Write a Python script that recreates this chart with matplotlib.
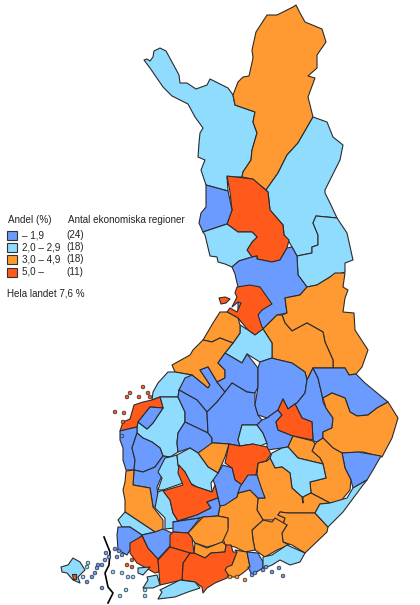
import matplotlib
matplotlib.use('Agg')
import matplotlib.pyplot as plt
from matplotlib.patches import Rectangle

plt.rcParams['font.family'] = ['Liberation Sans', 'DejaVu Sans']

# Legend
legend_labels = ['\u2013 1,9', '2,0 \u2013 2,9', '3,0 \u2013 4,9', '5,0 \u2013']
legend_counts = ['(24)', '(18)', '(18)', '(11)']
colors = ['#6B9BFF', '#8FDCFF', '#FF9A33', '#FF5A1C']

# Region outlines (x, y in picture pixels), class = legend row
enontekio = [(144,60),(147,59),(150,61),(153,57),(154,51),(160,48),(166,51),(172,62),(179,75),(180,83),(187,83),(196,89),(207,85),(210,79),(218,83),(228,88),(233,95),(235,105),(255,112),(253,122),(257,133),(252,150),(251,160),(243,172),(242,177),(227,177),(228,191),(206,185),(201,170),(205,160),(198,157),(199,143),(200,133),(203,128),(195,117),(188,104),(172,96),(163,87),(150,68)]
inari = [(233,95),(238,82),(243,77),(249,76),(253,58),(252,50),(256,32),(267,15),(277,15),(293,7),(296,5),(300,13),(305,22),(322,29),(326,42),(317,55),(317,68),(308,76),(315,78),(308,97),(313,117),(298,143),(287,155),(278,173),(266,190),(252,179),(242,177),(243,172),(251,160),(252,150),(257,133),(253,122),(255,112),(235,105)]
salla = [(313,117),(327,122),(333,137),(343,145),(340,160),(325,190),(325,193),(330,203),(337,218),(316,216),(313,223),(318,235),(318,245),(312,247),(312,253),(297,256),(292,247),(288,240),(284,235),(283,225),(270,210),(268,192),(266,190),(278,173),(287,155),(298,143)]
koillismaa = [(337,218),(347,233),(353,260),(345,263),(345,272),(330,277),(317,285),(307,287),(298,275),(297,256),(312,253),(312,247),(318,245),(318,235),(313,223),(316,216)]
rovaniemi = [(227,176),(253,179),(268,192),(270,210),(283,225),(284,235),(289,240),(287,248),(280,260),(272,262),(257,259),(257,256),(252,257),(247,250),(252,242),(257,237),(252,232),(238,232),(227,224),(232,210),(230,192)]
kemi = [(206,185),(228,191),(232,210),(227,224),(203,232),(199,223),(201,213),(206,207)]
oulu = [(203,232),(227,224),(238,232),(252,232),(257,237),(252,242),(247,250),(252,257),(239,261),(232,267),(225,264),(218,262),(217,257),(210,256),(205,235)]
oulu_south = [(232,267),(239,261),(252,257),(257,256),(257,259),(272,262),(280,260),(287,248),(292,247),(297,256),(298,275),(307,287),(300,295),(285,298),(287,313),(277,315),(263,329),(255,335),(238,318),(238,287),(235,274)]
raahe = [(237,287),(250,285),(260,287),(272,304),(262,310),(258,315),(262,327),(264,329),(255,335),(248,330),(238,318),(227,312),(230,308),(237,312),(241,303),(238,302),(232,307),(237,297),(235,293)]
kainuu_ne = [(307,287),(317,285),(330,277),(335,273),(345,273),(343,287),(348,290),(345,298),(343,312),(354,313),(355,330),(368,350),(362,367),(356,374),(349,375),(345,368),(333,368),(333,360),(325,342),(323,332),(307,323),(292,331),(285,323),(282,315),(287,313),(285,298),(300,295)]
kajaani = [(263,329),(277,315),(282,315),(285,323),(292,331),(307,323),(323,332),(325,342),(333,360),(333,368),(313,368),(307,380),(305,372),(292,363),(275,359),(272,358),(272,343)]
nivala = [(240,325),(248,330),(255,335),(263,329),(272,343),(272,358),(260,362),(247,354),(242,363),(225,353),(233,343),(240,333)]
kokkola = [(227,312),(238,318),(240,325),(240,333),(233,343),(220,338),(212,342),(203,340),(213,323),(220,312)]
jakobstad = [(203,340),(212,342),(220,338),(233,343),(225,353),(218,363),(225,370),(225,378),(217,382),(208,367),(200,370),(210,385),(208,388),(192,375),(175,372),(172,365),(190,355),(193,350)]
vaasa_red = [(120,431),(123,422),(130,419),(134,405),(143,402),(152,400),(160,397),(163,408),(150,407),(138,422),(137,427)]
pocket = [(138,422),(150,407),(163,408),(153,423),(147,429)]
kyro_top = [(153,392),(158,383),(168,372),(175,372),(192,375),(185,380),(179,390),(178,397),(160,397),(152,400)]
kyro = [(137,427),(138,422),(147,429),(153,423),(163,408),(160,397),(178,397),(185,412),(185,422),(178,433),(177,443),(178,452),(170,457),(163,456),(160,448),(152,442),(143,438),(137,433)]
seinajoki = [(185,378),(192,375),(208,388),(210,385),(200,370),(208,367),(217,382),(225,392),(217,402),(207,412),(197,400),(179,390)]
lappajarvi = [(179,390),(197,400),(207,412),(208,433),(185,422),(185,412),(178,397)]
kuusiokunnat = [(185,422),(208,433),(212,438),(212,447),(198,453),(190,448),(178,452),(177,443),(178,433)]
narpes = [(120,431),(137,427),(137,433),(132,448),(135,460),(134,470),(126,470),(123,460),(123,448),(120,440)]
suupohja = [(132,448),(137,433),(143,438),(152,442),(160,448),(163,456),(155,467),(143,472),(134,470),(135,460)]
pohjois = [(134,470),(143,472),(155,467),(163,456),(170,457),(165,468),(160,480),(157,487),(159,507),(153,507),(150,488),(133,485)]
pori = [(126,471),(134,470),(133,485),(150,488),(153,507),(163,520),(163,530),(155,532),(140,522),(125,512),(125,500),(123,490),(125,482)]
upper_strip = [(158,472),(165,458),(170,457),(177,455),(178,465),(183,483),(163,490),(158,490),(162,478)]
lower_strip = [(158,492),(163,490),(170,500),(173,513),(178,521),(175,528),(165,529),(165,518),(155,508)]
saarijarvi = [(218,363),(225,370),(225,378),(217,382),(225,392),(232,383),(247,392),(255,393),(258,387),(258,368),(247,354),(242,363),(225,353)]
keuruu = [(207,412),(217,402),(225,392),(232,383),(247,392),(255,393),(255,405),(258,415),(262,420),(257,425),(242,425),(238,440),(240,446),(229,444),(215,443),(212,443),(212,438),(208,433)]
island_lb = [(242,425),(257,425),(263,433),(267,443),(258,447),(253,444),(240,446),(238,440)]
kuopio = [(258,368),(260,362),(272,358),(275,359),(292,363),(305,372),(307,380),(305,393),(297,403),(295,404),(288,409),(283,399),(278,410),(267,418),(258,415),(255,405),(258,387)]
strip = [(307,380),(313,368),(318,378),(322,395),(323,402),(326,408),(333,418),(332,428),(323,432),(323,438),(317,442),(313,441),(312,422),(302,418),(295,404),(297,403),(305,393)]
nurmes = [(313,368),(345,368),(349,375),(356,374),(365,383),(388,402),(377,408),(368,415),(357,416),(350,412),(345,398),(332,393),(323,398),(322,395),(318,378)]
varkaus = [(267,418),(278,410),(282,415),(276,422),(278,430),(293,436),(288,447),(282,448),(267,450),(267,443),(263,433),(257,425),(262,420)]
pieksamaki = [(283,399),(288,409),(295,404),(302,418),(312,422),(313,440),(293,436),(278,430),(276,422),(282,415),(278,410)]
joensuu = [(323,398),(332,393),(345,398),(350,412),(357,416),(368,415),(377,408),(388,402),(398,418),(392,438),(382,457),(363,452),(342,453),(333,448),(323,438),(323,432),(332,428),(333,418),(326,408)]
savonlinna = [(342,453),(358,452),(381,456),(373,470),(367,480),(353,488),(351,480),(345,468)]
orange_e = [(317,442),(323,438),(333,448),(342,453),(345,468),(351,480),(350,490),(340,502),(330,503),(311,493),(310,482),(326,478),(323,464),(320,458),(312,451),(315,444)]
orange_n = [(288,447),(293,436),(313,441),(315,444),(312,451),(320,458),(323,464),(298,458)]
mikkeli_lb = [(270,458),(272,453),(282,448),(288,447),(298,458),(323,464),(326,478),(310,482),(311,493),(303,497),(303,503),(302,497),(292,488),(290,473),(282,467),(275,468)]
mikkeli = [(258,463),(267,461),(270,458),(275,468),(282,467),(290,473),(292,488),(302,497),(303,503),(303,497),(311,493),(330,503),(320,504),(315,513),(288,513),(280,512),(278,515),(285,518),(283,525),(273,520),(263,520),(257,510),(258,498),(265,498),(260,487),(257,475)]
kouvola = [(278,515),(280,512),(288,513),(315,513),(328,527),(327,532),(305,553),(292,545),(283,542),(282,533),(287,525),(283,525),(285,518)]
coast_e = [(315,513),(320,504),(330,503),(347,498),(353,488),(367,480),(363,485),(343,512),(328,527)]
lahti = [(252,530),(263,520),(272,522),(275,518),(287,525),(282,533),(283,542),(289,545),(277,550),(265,557),(255,550),(253,540)]
hame_large = [(220,506),(237,497),(238,493),(250,490),(258,498),(257,510),(263,520),(252,530),(253,540),(255,550),(245,552),(235,547),(225,545),(223,538),(228,527),(228,518),(218,516)]
central_red = [(229,444),(240,446),(253,444),(267,447),(271,454),(266,461),(258,463),(256,475),(248,477),(243,483),(242,485),(235,480),(232,468),(225,463)]
blue_mid = [(218,473),(223,465),(232,468),(235,480),(242,485),(238,493),(237,497),(225,505),(220,506),(218,498),(217,493),(215,485),(212,477)]
blue_se = [(240,487),(248,475),(257,475),(261,487),(265,498),(258,498),(250,490),(238,493)]
orange_top = [(198,453),(212,443),(215,443),(229,444),(225,457),(218,473),(208,467)]
lb_mid = [(177,455),(190,448),(198,453),(208,467),(218,473),(211,483),(212,492),(197,487),(190,483),(185,472),(178,465)]
tampere_red = [(179,465),(185,472),(192,485),(197,487),(212,492),(215,485),(218,498),(207,502),(211,508),(197,515),(178,521),(173,513),(170,500),(163,491),(183,485),(178,473)]
blue_low = [(197,515),(211,508),(207,502),(218,498),(220,506),(218,516),(203,517),(200,518),(173,522),(178,521)]
blue_b = [(173,522),(200,518),(188,533),(173,532)]
orange_c = [(188,533),(203,517),(218,516),(228,518),(228,530),(222,543),(207,547),(195,543)]
orange_d = [(195,543),(207,548),(222,542),(226,545),(225,552),(211,553),(205,558),(194,553)]
red_large = [(190,553),(194,553),(205,558),(211,553),(225,552),(226,545),(231,545),(233,552),(237,552),(232,565),(227,578),(215,583),(207,588),(203,593),(202,587),(195,582),(182,580),(183,563)]
orange_s = [(235,550),(247,552),(250,567),(243,573),(237,577),(230,577),(225,570),(227,567),(232,565),(237,552)]
blue_s = [(247,552),(258,553),(263,562),(263,568),(255,573),(252,575),(248,567),(250,567)]
coast_s = [(263,557),(272,555),(287,545),(305,553),(300,562),(290,565),(280,560),(272,565),(267,567),(263,568)]
turku_lb = [(125,512),(140,522),(155,532),(142,535),(130,527),(122,527),(118,520)]
uusikaupunki = [(118,527),(130,527),(142,535),(130,550),(127,555),(118,550),(117,535)]
salo_red = [(142,536),(148,548),(158,559),(159,572),(155,573),(137,563),(130,553),(130,543)]
loimaa = [(142,535),(155,532),(163,529),(172,533),(170,546),(158,559),(148,548)]
forssa_red = [(170,535),(173,532),(188,533),(192,538),(194,553),(190,553),(170,547)]
raseborg_red = [(170,547),(190,553),(183,563),(182,580),(160,585),(158,560)]
hanko = [(160,590),(180,580),(195,582),(200,588),(188,592),(175,597),(158,599),(162,592)]
turunmaa_a = [(138,568),(150,567),(143,575),(138,573)]
turunmaa_b = [(147,577),(157,575),(160,585),(153,588),(143,588),(148,580)]
aland = [(61,567),(68,565),(73,558),(80,562),(85,570),(78,577),(80,583),(73,580),(67,573),(62,572)]
aland_red = [(72,574),(76,574),(76,579),(73,579)]
hailuoto = [(219,298),(225,297),(230,299),(226,303),(221,304)]

regions = [enontekio, inari, salla, koillismaa, rovaniemi, kemi, oulu, oulu_south, raahe, kainuu_ne, kajaani, nivala, kokkola, jakobstad,
           kyro_top, kyro, vaasa_red, pocket, seinajoki, lappajarvi, kuusiokunnat, narpes, suupohja, pohjois, pori, upper_strip, lower_strip,
           saarijarvi, keuruu, island_lb, kuopio, strip, nurmes, varkaus, pieksamaki, joensuu, savonlinna, orange_e, orange_n, mikkeli_lb, mikkeli,
           kouvola, coast_e, lahti, hame_large, central_red, blue_mid, blue_se, orange_top, lb_mid, tampere_red, blue_low, blue_b, orange_c,
           orange_d, red_large, orange_s, blue_s, coast_s, turku_lb, uusikaupunki, salo_red, loimaa, forssa_red, raseborg_red, hanko,
           turunmaa_a, turunmaa_b, aland, aland_red, hailuoto]
region_class = [1, 2, 1, 1, 3, 0, 1, 0, 3, 2, 2, 1, 2, 2,
                1, 1, 3, 0, 0, 0, 0, 0, 0, 0, 2, 1, 1,
                0, 0, 1, 0, 0, 0, 0, 3, 2, 0, 2, 2, 1, 2,
                2, 1, 2, 2, 3, 0, 0, 2, 1, 3, 0, 0, 2,
                2, 3, 2, 0, 1, 1, 0, 3, 0, 3, 3, 1,
                1, 1, 1, 3, 3]

# Small islands: x, y, class
island_x = [115, 124, 143, 127, 130, 139, 148, 150, 123, 122, 106, 109, 105, 115, 119, 122, 117, 132, 127, 132, 113, 122, 128, 133, 98, 102, 97, 95, 92, 87, 87, 88, 83, 102, 126, 120, 145, 145, 230, 237, 245, 252, 255, 263, 266, 272, 279, 283]
island_y = [412, 413, 387, 397, 393, 397, 393, 397, 422, 436, 553, 557, 560, 549, 551, 555, 557, 560, 565, 567, 572, 573, 577, 577, 565, 565, 568, 573, 577, 582, 567, 563, 577, 588, 590, 596, 590, 596, 577, 577, 580, 575, 573, 570, 567, 572, 568, 576]
island_class = [3, 3, 3, 3, 3, 3, 3, 3, 3, 0, 0, 0, 0, 0, 0, 0, 0, 3, 3, 3, 1, 1, 1, 1, 0, 0, 0, 0, 0, 0, 1, 1, 1, 0, 1, 1, 1, 1, 2, 2, 2, 0, 0, 0, 0, 0, 0, 0]

# Border line in the sea
border_x = [104, 110, 109, 105, 108, 113, 108]
border_y = [537, 552, 565, 573, 587, 593, 603]

fig = plt.figure(figsize=(4.2, 6.05), dpi=100)
ax = fig.add_axes([0, 0, 1, 1])
ax.set_xlim(0, 420)
ax.set_ylim(605, 0)
ax.axis('off')

for outline, c in zip(regions, region_class):
    xs = [p[0] for p in outline]
    ys = [p[1] for p in outline]
    ax.fill(xs, ys, facecolor=colors[c], edgecolor='#2b2b2b', linewidth=0.8, joinstyle='round')

ax.scatter(island_x, island_y, s=7, c=[colors[c] for c in island_class], edgecolors='#2b2b2b', linewidths=0.5, zorder=3)
ax.plot(border_x, border_y, color='black', lw=1.2)

# Legend text and boxes
ax.text(8, 220, 'Andel (%)', fontsize=7.1, va='center', color='#222222')
ax.text(68, 220, 'Antal ekonomiska regioner', fontsize=7.1, va='center', color='#222222')
legend_y = [235, 247, 259, 272]
for y, label, count, col in zip(legend_y, legend_labels, legend_counts, colors):
    ax.add_patch(Rectangle((7, y - 4.5), 10, 9, facecolor=col, edgecolor='#333333', linewidth=0.8))
    ax.text(22, y, label, fontsize=7.1, va='center', color='#222222')
    ax.text(66, y, count, fontsize=7.1, va='center', color='#222222')
ax.text(7, 293, 'Hela landet 7,6 %', fontsize=7.1, va='center', color='#222222')

plt.savefig('out.png', dpi=100)
